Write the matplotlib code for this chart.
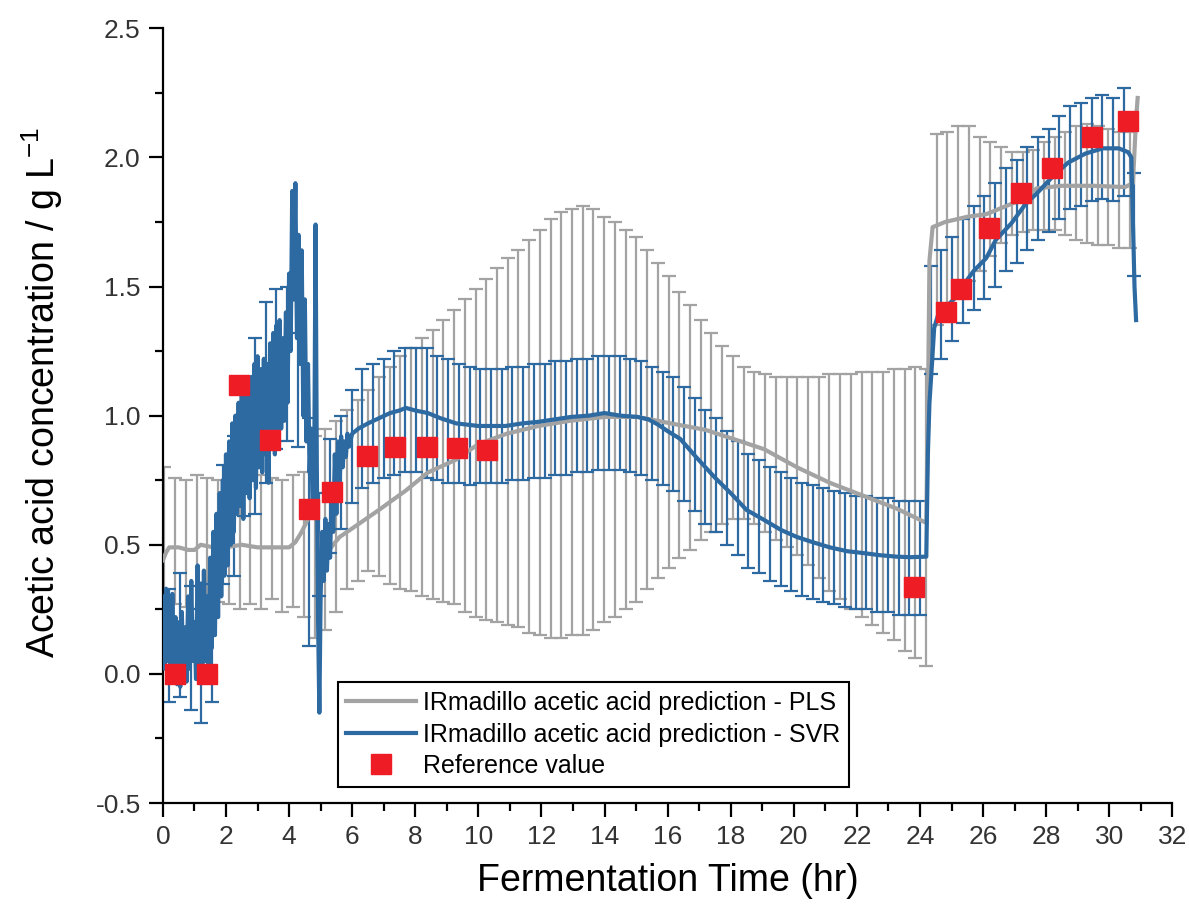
import numpy as np
import matplotlib.pyplot as plt
from matplotlib import font_manager
from matplotlib.lines import Line2D
from matplotlib.ticker import MultipleLocator

# pick a narrow Arial-like face if it is there
names = {f.name for f in font_manager.fontManager.ttflist}
font = 'Liberation Sans Narrow' if 'Liberation Sans Narrow' in names else 'Liberation Sans'
plt.rcParams['font.family'] = [font, 'DejaVu Sans']
plt.rcParams['mathtext.default'] = 'regular'

# PLS prediction (grey line)
pls_t = [0.0, 0.1, 0.2, 0.5, 0.8, 1.0, 1.2, 1.6, 2.0, 2.5, 3.0, 3.5, 4.0, 4.2, 4.4, 4.6, 4.75,
         4.85, 4.95, 5.05, 5.2, 5.4, 5.6, 6.2, 6.85, 7.7, 8.4, 9.3, 10.0, 10.9, 11.9, 12.9,
         14.0, 15.05, 16.1, 17.2, 18.2, 19.06, 20.1, 21.14, 22.2, 23.26, 24.2, 24.25, 24.3,
         24.4, 24.8, 25.5, 26.1, 26.7, 27.2, 27.7, 28.5, 29.5, 30.5, 30.75, 30.85, 30.9]
pls_y = [0.44, 0.47, 0.49, 0.49, 0.48, 0.48, 0.50, 0.49, 0.49, 0.50, 0.49, 0.49, 0.49, 0.51,
         0.55, 0.60, 0.64, 0.62, 0.45, 0.40, 0.47, 0.50, 0.53, 0.58, 0.635, 0.71, 0.78, 0.83,
         0.89, 0.93, 0.96, 0.98, 0.995, 0.995, 0.97, 0.945, 0.905, 0.87, 0.80, 0.74, 0.69,
         0.64, 0.585, 1.0, 1.6, 1.73, 1.75, 1.77, 1.78, 1.81, 1.835, 1.88, 1.89, 1.89, 1.885,
         1.90, 2.15, 2.23]

# PLS error bars (lower / upper ends), one bar every 0.34 hr from 0.05 hr
pls_bar_lo = [0.30, 0.27, 0.26, 0.25, 0.29, 0.28, 0.27, 0.25, 0.27, 0.25,
              0.29, 0.24, 0.26, 0.22, 0.14, 0.17, 0.24, 0.33, 0.36, 0.40,
              0.38, 0.35, 0.33, 0.32, 0.30, 0.29, 0.28, 0.27, 0.24, 0.22,
              0.21, 0.20, 0.19, 0.18, 0.16, 0.15, 0.14, 0.14, 0.15, 0.15,
              0.17, 0.20, 0.22, 0.25, 0.28, 0.33, 0.37, 0.41, 0.45, 0.48,
              0.52, 0.55, 0.58, 0.60, 0.60, 0.58, 0.55, 0.52, 0.49, 0.46,
              0.42, 0.37, 0.32, 0.29, 0.25, 0.22, 0.19, 0.16, 0.13, 0.09,
              0.06, 0.03, 1.35, 1.42, 1.46, 1.52, 1.56, 1.62, 1.67, 1.70,
              1.71, 1.72, 1.72, 1.72, 1.70, 1.68, 1.67, 1.66, 1.66, 1.65,
              1.65]
pls_bar_hi = [0.80, 0.76, 0.75, 0.77, 0.76, 0.75, 0.77, 0.76, 0.75, 0.77,
              0.76, 0.75, 0.77, 0.78, 0.92, 0.95, 0.98, 1.02, 1.06, 1.10,
              1.15, 1.19, 1.23, 1.26, 1.30, 1.33, 1.37, 1.41, 1.45, 1.49,
              1.53, 1.57, 1.61, 1.64, 1.68, 1.72, 1.76, 1.79, 1.80, 1.81,
              1.80, 1.77, 1.75, 1.72, 1.69, 1.64, 1.59, 1.54, 1.48, 1.43,
              1.37, 1.32, 1.27, 1.23, 1.19, 1.17, 1.16, 1.15, 1.15, 1.15,
              1.15, 1.15, 1.16, 1.16, 1.16, 1.17, 1.17, 1.17, 1.18, 1.18,
              1.19, 1.18, 2.09, 2.10, 2.12, 2.12, 2.08, 2.06, 2.04, 2.02,
              2.02, 2.03, 2.06, 2.08, 2.10, 2.12, 2.13, 2.12, 2.11, 2.10,
              2.10]

# SVR prediction (blue line), noisy at the start
svr_t = [0.00, 0.05, 0.10, 0.15, 0.20, 0.25, 0.30, 0.35, 0.40, 0.45, 0.50, 0.55, 0.60, 0.65,
         0.70, 0.75, 0.80, 0.85, 0.90, 0.95, 1.00, 1.05, 1.10, 1.15, 1.20, 1.25, 1.30, 1.35,
         1.40, 1.45, 1.50, 1.55, 1.60, 1.65, 1.70, 1.75, 1.80, 1.85, 1.90, 1.95, 2.00, 2.05,
         2.10, 2.15, 2.20, 2.25, 2.30, 2.35, 2.40, 2.45, 2.50, 2.55, 2.60, 2.65, 2.70, 2.75,
         2.80, 2.85, 2.90, 2.95, 3.00, 3.05, 3.10, 3.15, 3.20, 3.25, 3.30, 3.35, 3.40, 3.45,
         3.50, 3.55, 3.60, 3.65, 3.70, 3.75, 3.80, 3.85, 3.90, 3.95, 4.00, 4.05, 4.10, 4.15,
         4.20, 4.25, 4.30, 4.35, 4.40, 4.45, 4.50, 4.55, 4.60, 4.65, 4.70, 4.75, 4.80, 4.84,
         4.88, 4.92, 4.96, 5.00, 5.05, 5.10, 5.15, 5.20, 5.25, 5.30, 5.35, 5.40, 5.45, 5.50,
         5.55, 5.60, 5.65, 5.70, 5.75, 5.80, 5.85, 5.90, 6.00,
         6.2, 6.5, 6.85, 7.2, 7.5, 7.7, 8.0, 8.4, 8.8, 9.3, 10.0, 10.86, 11.4, 11.9, 12.4,
         12.94, 13.5, 14.0, 14.5, 15.05, 15.4, 15.7, 16.0, 16.4, 16.9, 17.5, 18.0, 18.5,
         19.06, 19.6, 20.1, 20.6, 21.14, 21.7, 22.2, 22.7, 23.26, 23.7, 24.2, 24.25, 24.3,
         24.38, 24.45, 24.6, 24.9, 25.15, 25.4, 25.7, 26.1, 26.4, 26.9, 27.35, 27.7, 28.2,
         28.7, 29.25, 29.8, 30.3, 30.6, 30.7, 30.75, 30.8, 30.85]
svr_y = [0.30, 0.02, 0.33, 0.05, 0.28, 0.00, 0.31, 0.03, 0.22, -0.04, 0.20, -0.05, 0.24, 0.00,
         0.18, -0.03, 0.30, 0.02, 0.36, 0.05, 0.20, -0.02, 0.42, 0.00, 0.35, -0.03, 0.40, 0.05,
         0.30, 0.00, 0.45, 0.10, 0.55, 0.15, 0.62, 0.22, 0.70, 0.30, 0.75, 0.38, 0.85, 0.42,
         0.90, 0.50, 0.97, 0.55, 1.00, 0.62, 1.05, 0.65, 1.08, 0.60, 1.10, 0.70, 1.13, 0.68,
         1.15, 0.75, 1.20, 0.72, 1.23, 0.80, 1.18, 0.78, 1.22, 0.85, 1.20, 0.74, 1.28, 0.88,
         1.32, 0.85, 1.35, 0.92, 1.37, 0.95, 1.30, 0.98, 1.40, 1.05, 1.55, 1.25, 1.87, 1.45,
         1.90, 1.30, 1.70, 1.20, 1.64, 1.00, 1.45, 0.90, 1.20, 0.78, 0.95, 0.62, 0.85, 1.74,
         0.80, 0.20, -0.15, 0.30, 0.55, 0.36, 0.60, 0.40, 0.58, 0.45, 0.70, 0.55, 0.85, 0.62,
         0.90, 0.72, 0.92, 0.80, 0.90, 0.84, 0.93, 0.88, 0.93,
         0.95, 0.97, 0.99, 1.01, 1.02, 1.03, 1.02, 1.01, 0.99, 0.97, 0.96, 0.96, 0.97, 0.976,
         0.985, 0.995, 1.00, 1.01, 1.00, 0.995, 0.985, 0.965, 0.94, 0.91, 0.84, 0.76, 0.70,
         0.635, 0.596, 0.557, 0.53, 0.51, 0.49, 0.475, 0.468, 0.46, 0.454, 0.452, 0.454, 0.85,
         1.05, 1.20, 1.34, 1.40, 1.43, 1.46, 1.51, 1.56, 1.61, 1.68, 1.745, 1.82, 1.86, 1.925,
         1.98, 2.015, 2.035, 2.035, 2.02, 2.00, 1.75, 1.50, 1.37]

# SVR error bars (centre, half width), one bar every 0.34 hr from 0.2 hr
svr_bar_c = [0.11, 0.15, 0.10, 0.03, 0.12, 0.58, 0.65, 0.83, 0.96, 1.09,
             1.18, 1.20, 1.10, 0.55, 0.50, 0.69, 0.78, 0.88, 0.95, 0.97,
             0.99, 1.01, 1.02, 1.02, 1.01, 0.99, 0.98, 0.97, 0.96, 0.96,
             0.96, 0.96, 0.97, 0.97, 0.98, 0.98, 0.99, 0.99, 1.00, 1.00,
             1.01, 1.01, 1.01, 1.00, 0.99, 0.97, 0.95, 0.93, 0.89, 0.85,
             0.80, 0.77, 0.72, 0.68, 0.63, 0.61, 0.58, 0.56, 0.54, 0.52,
             0.51, 0.50, 0.49, 0.48, 0.47, 0.47, 0.46, 0.46, 0.45, 0.45,
             0.45, 1.37, 1.43, 1.49, 1.56, 1.61, 1.65, 1.70, 1.76, 1.79,
             1.84, 1.88, 1.91, 1.96, 2.00, 2.01, 2.03, 2.04, 2.03, 2.06,
             1.74]
svr_bar_e = [0.22, 0.24, 0.24, 0.22, 0.23, 0.23, 0.27, 0.22, 0.34, 0.35,
             0.31, 0.30, 0.22, 0.44, 0.20, 0.22, 0.22, 0.22, 0.23, 0.23,
             0.23, 0.24, 0.24, 0.24, 0.25, 0.24, 0.24, 0.23, 0.23, 0.22,
             0.22, 0.22, 0.22, 0.22, 0.22, 0.22, 0.22, 0.22, 0.22, 0.22,
             0.22, 0.22, 0.22, 0.22, 0.22, 0.22, 0.22, 0.22, 0.22, 0.22,
             0.22, 0.22, 0.22, 0.22, 0.22, 0.22, 0.22, 0.22, 0.22, 0.22,
             0.22, 0.22, 0.22, 0.22, 0.22, 0.22, 0.22, 0.22, 0.22, 0.22,
             0.22, 0.21, 0.21, 0.20, 0.20, 0.20, 0.20, 0.20, 0.20, 0.20,
             0.20, 0.20, 0.20, 0.20, 0.20, 0.20, 0.20, 0.20, 0.20, 0.21,
             0.20]

# reference (offline) measurements
ref_t = [0.38, 1.39, 2.40, 3.38, 4.64, 5.36, 6.47, 7.35, 8.36, 9.31, 10.29,
         23.8, 24.83, 25.3, 26.2, 27.2, 28.2, 29.44, 30.6]
ref_y = [0.0, 0.0, 1.12, 0.905, 0.64, 0.705, 0.845, 0.88, 0.88, 0.875, 0.867,
         0.337, 1.40, 1.49, 1.725, 1.862, 1.96, 2.08, 2.14]

gray = '#A3A3A3'
blue = '#2E6AA2'
red = '#EE1C25'

pls_bar_t = 0.05 + 0.34 * np.arange(len(pls_bar_lo))
svr_bar_t = 0.2 + 0.34 * np.arange(len(svr_bar_c))
lo = np.array(pls_bar_lo)
hi = np.array(pls_bar_hi)

fig = plt.figure(figsize=(11.89, 9.11), dpi=100)
ax = fig.add_axes([0.137, 0.1185, 0.849, 0.8505])

ax.errorbar(pls_bar_t, (lo + hi) / 2, yerr=(hi - lo) / 2, fmt='none', ecolor=gray,
            elinewidth=1.6, capsize=5, capthick=1.6, zorder=1)
ax.errorbar(svr_bar_t, svr_bar_c, yerr=svr_bar_e, fmt='none', ecolor=blue,
            elinewidth=1.6, capsize=5, capthick=1.6, zorder=2)
ax.plot(pls_t, pls_y, color=gray, lw=3, zorder=3)
ax.plot(svr_t, svr_y, color=blue, lw=3, zorder=4)
ax.plot(ref_t, ref_y, 's', color=red, ms=14, mec=red, zorder=5)

ax.set_xlim(0, 32)
ax.set_ylim(-0.5, 2.5)
ax.xaxis.set_major_locator(MultipleLocator(2))
ax.xaxis.set_minor_locator(MultipleLocator(1))
ax.yaxis.set_major_locator(MultipleLocator(0.5))
ax.yaxis.set_minor_locator(MultipleLocator(0.25))
ax.yaxis.set_major_formatter(plt.FormatStrFormatter('%.1f'))
for s in ['top', 'right']:
    ax.spines[s].set_visible(False)
for s in ['left', 'bottom']:
    ax.spines[s].set_linewidth(1.6)
ax.tick_params(which='major', direction='out', length=10, width=1.6,
               labelsize=19, labelcolor='#333333', pad=6)
ax.tick_params(which='minor', direction='out', length=6, width=1.6)

ax.set_xlabel('Fermentation Time (hr)', fontsize=27, labelpad=10)
ax.set_ylabel('Acetic acid concentration / g L$^{-1}$', fontsize=27)
ax.yaxis.set_label_coords(-0.097, 0.53)

handles = [Line2D([], [], color=gray, lw=3),
           Line2D([], [], color=blue, lw=3),
           Line2D([], [], ls='none', marker='s', color=red, ms=14)]
labels = ['IRmadillo acetic acid prediction - PLS',
          'IRmadillo acetic acid prediction - SVR',
          'Reference value']
leg = ax.legend(handles, labels, loc='lower left', bbox_to_anchor=(0.173, 0.021),
                borderaxespad=0, fontsize=18, fancybox=False, edgecolor='black',
                framealpha=1, handlelength=2.8, handletextpad=0.25, labelspacing=0.3,
                borderpad=0.35)
leg.get_frame().set_linewidth(1.5)

fig.savefig('out.png', dpi=100)
